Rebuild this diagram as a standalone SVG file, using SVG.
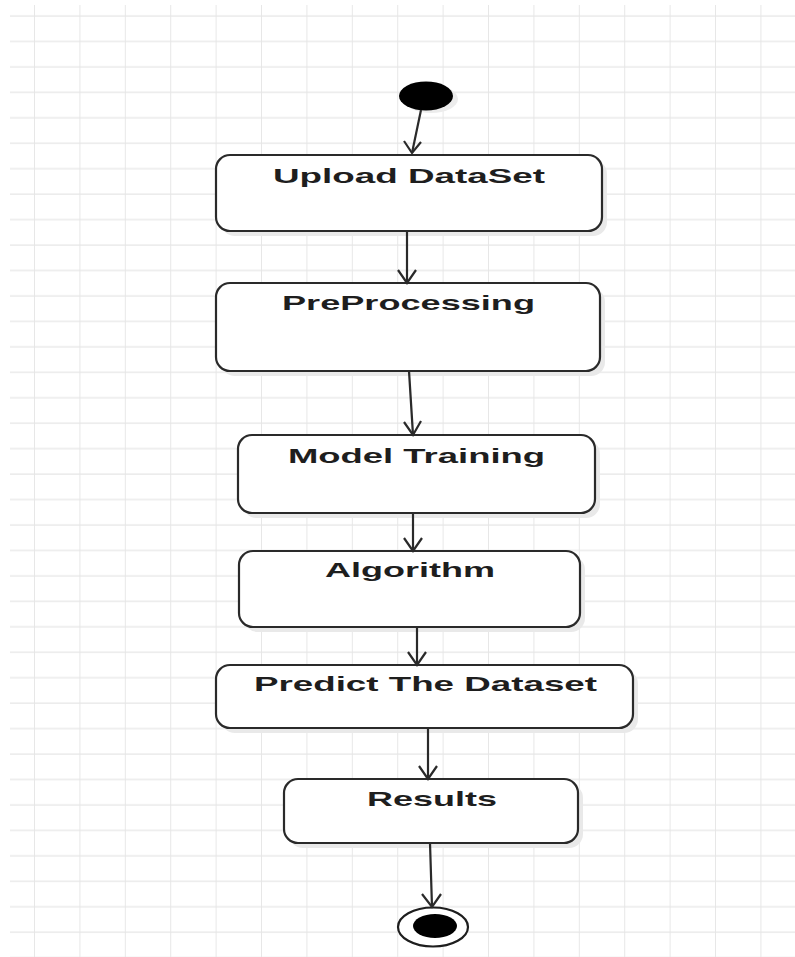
<svg xmlns="http://www.w3.org/2000/svg" width="795" height="957" viewBox="0 0 795 957">
<style>
.box{fill:#fff;stroke:#2a2a2a;stroke-width:2.2}
.shadow{fill:#e9e9e9}
.lbl{font-family:"Liberation Sans",Arial,sans-serif;font-weight:bold;font-size:21px;fill:#1e1e1e}
.edge{fill:none;stroke:#2a2a2a;stroke-width:2.2}
.head{fill:none;stroke:#2a2a2a;stroke-width:2.2;stroke-linejoin:miter}
</style>
<defs>
<pattern id="grid" x="-10.4" y="11" width="45.4" height="25.45" patternUnits="userSpaceOnUse">
<line x1="45.4" y1="0" x2="45.4" y2="25.45" stroke="#e2e2e2" stroke-width="1.6"/>
<line x1="0" y1="5" x2="45.4" y2="5" stroke="#e6e6e6" stroke-width="1.4"/>
</pattern>
<marker id="arr" viewBox="0 0 24 20" refX="12" refY="18" markerWidth="24" markerHeight="20" markerUnits="userSpaceOnUse" orient="auto-start-reverse">
</marker>
</defs>
<rect width="795" height="957" fill="#fff"/>
<rect x="10" y="5" width="785" height="952" fill="url(#grid)"/>

<g id="start">
<ellipse cx="431" cy="99" rx="27" ry="14" fill="#ececec"/>
<ellipse cx="426" cy="96" rx="27" ry="14.5" fill="#000"/>
</g>

<g id="upload">
<rect class="shadow" x="221" y="160" width="386" height="76" rx="14"/>
<rect class="box" x="216" y="155" width="386" height="76" rx="14"/>
<text class="lbl" x="273" y="183" textLength="272" lengthAdjust="spacingAndGlyphs">Upload DataSet</text>
</g>

<g id="preprocessing">
<rect class="shadow" x="221" y="288" width="384" height="88" rx="14"/>
<rect class="box" x="216" y="283" width="384" height="88" rx="14"/>
<text class="lbl" x="282" y="310" textLength="253" lengthAdjust="spacingAndGlyphs">PreProcessing</text>
</g>

<g id="training">
<rect class="shadow" x="243" y="440" width="357" height="78" rx="14"/>
<rect class="box" x="238" y="435" width="357" height="78" rx="14"/>
<text class="lbl" x="288" y="463" textLength="257" lengthAdjust="spacingAndGlyphs">Model Training</text>
</g>

<g id="algorithm">
<rect class="shadow" x="244" y="556" width="341" height="76" rx="14"/>
<rect class="box" x="239" y="551" width="341" height="76" rx="14"/>
<text class="lbl" x="325" y="577" textLength="170" lengthAdjust="spacingAndGlyphs">Algorithm</text>
</g>

<g id="predict">
<rect class="shadow" x="221" y="670" width="417" height="63" rx="14"/>
<rect class="box" x="216" y="665" width="417" height="63" rx="14"/>
<text class="lbl" x="254" y="691" textLength="343" lengthAdjust="spacingAndGlyphs">Predict The Dataset</text>
</g>

<g id="results">
<rect class="shadow" x="289" y="784" width="294" height="64" rx="14"/>
<rect class="box" x="284" y="779" width="294" height="64" rx="14"/>
<text class="lbl" x="367" y="806" textLength="130" lengthAdjust="spacingAndGlyphs">Results</text>
</g>

<g id="end">
<ellipse cx="433" cy="927" rx="35" ry="19.5" fill="#fff" stroke="#1e1e1e" stroke-width="2.2"/>
<ellipse cx="435" cy="926" rx="22" ry="12" fill="#000"/>
</g>

<g id="connectors">
<path class="edge" d="M421 110 L412 153"/>
<path class="head" d="M404 141 L412 153 L421 142"/>
<path class="edge" d="M407 231 L407 283"/>
<path class="head" d="M398 270 L407 283 L416 270"/>
<path class="edge" d="M409 371 L413 435"/>
<path class="head" d="M404 422 L413 435 L421 421"/>
<path class="edge" d="M413 513 L413 551"/>
<path class="head" d="M404 538 L413 551 L422 538"/>
<path class="edge" d="M417 627 L417 665"/>
<path class="head" d="M408 652 L417 665 L426 652"/>
<path class="edge" d="M428 728 L428 779"/>
<path class="head" d="M419 766 L428 779 L437 766"/>
<path class="edge" d="M430 843 L432 907"/>
<path class="head" d="M422 894 L432 907 L441 894"/>
</g>
</svg>
